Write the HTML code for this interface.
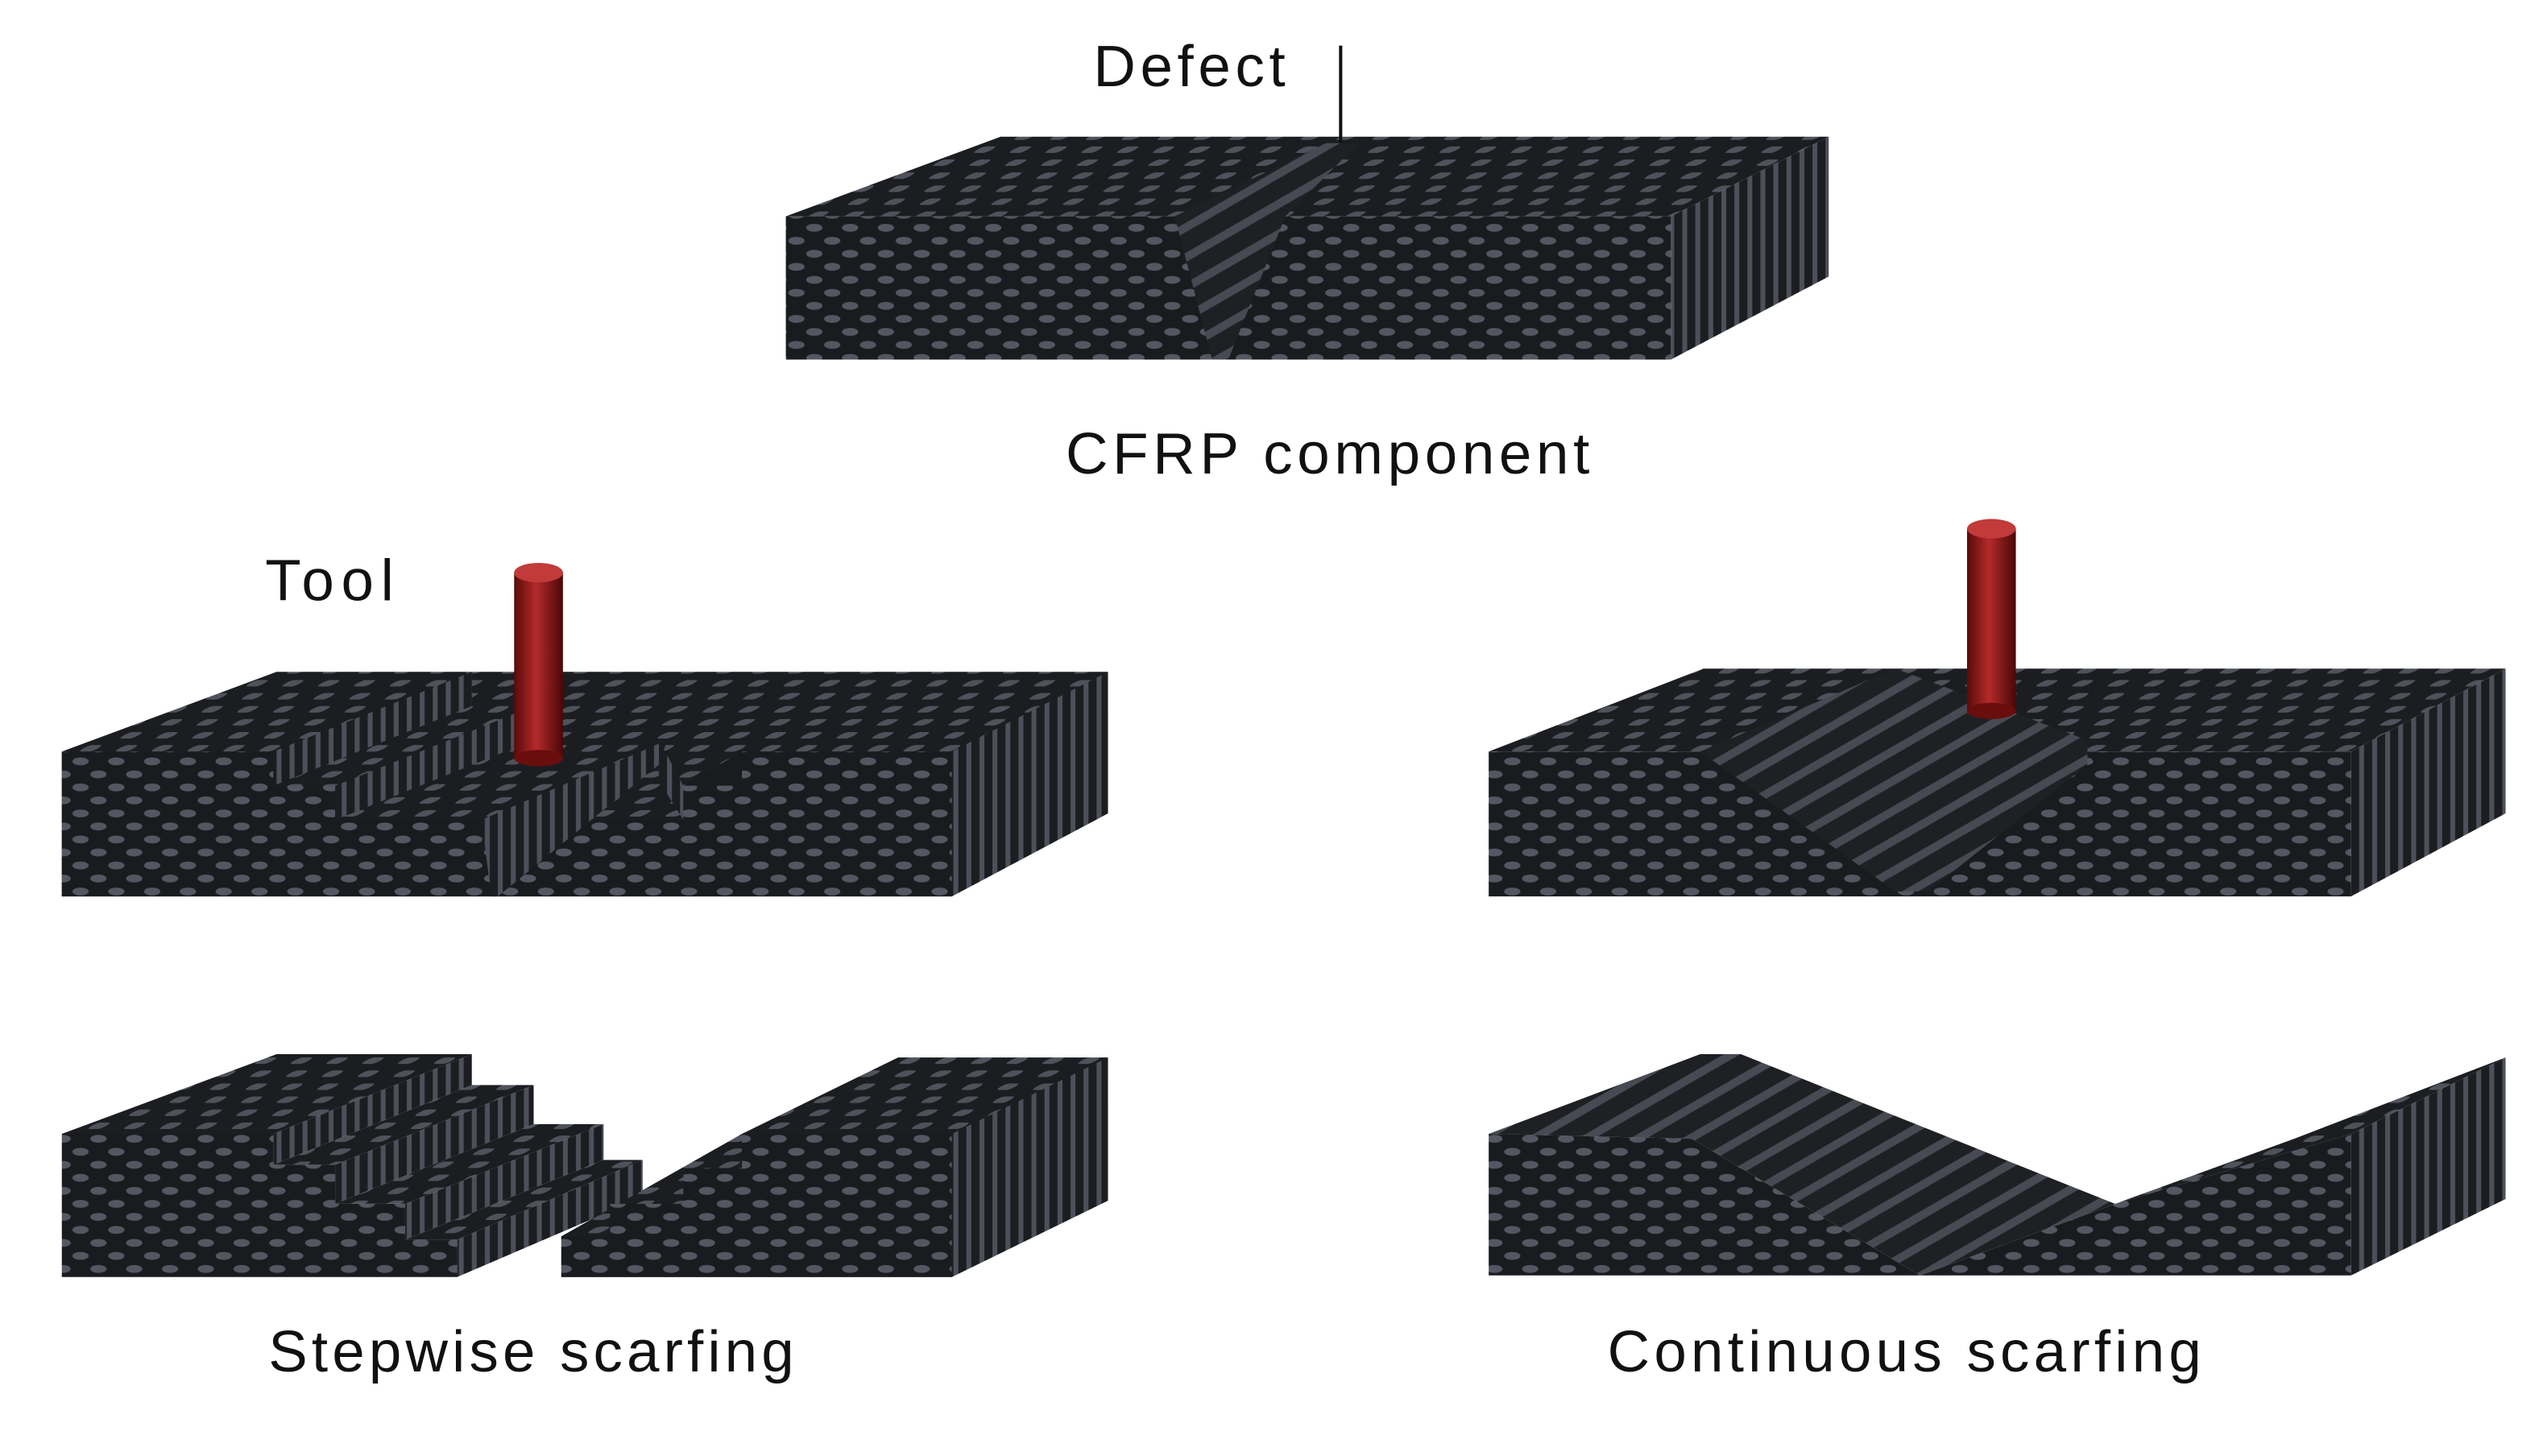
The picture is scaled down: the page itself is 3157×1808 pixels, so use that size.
<!DOCTYPE html>
<html><head><meta charset="utf-8"><style>
html,body{margin:0;padding:0;background:#fff;}
svg{display:block}
text{font-family:"Liberation Sans",sans-serif;fill:#111;}
</style></head><body>
<svg width="3157" height="1808" viewBox="0 0 1563 895" preserveAspectRatio="none" xmlns="http://www.w3.org/2000/svg">
<defs>
<pattern id="fr" patternUnits="userSpaceOnUse" width="22" height="16">
<rect width="22" height="16" fill="#1a1b1e"/>
<ellipse cx="5.5" cy="4" rx="5" ry="2.4" fill="#545761"/>
<ellipse cx="16.5" cy="12" rx="5" ry="2.4" fill="#545761"/>
</pattern>
<pattern id="tp" patternUnits="userSpaceOnUse" width="22" height="16" patternTransform="skewX(-60)">
<rect width="22" height="16" fill="#1c1d21"/>
<rect x="1" y="2" width="9" height="4" rx="2" fill="#4f525b"/>
<rect x="12" y="10" width="9" height="4" rx="2" fill="#4f525b"/>
</pattern>
<pattern id="sd" patternUnits="userSpaceOnUse" width="8" height="20" patternTransform="skewY(-27)">
<rect width="8" height="20" fill="#1c1d21"/>
<rect x="2" y="0" width="3" height="20" fill="#4d505a"/>
</pattern>
<pattern id="dg" patternUnits="userSpaceOnUse" width="16" height="16" patternTransform="rotate(-30)">
<rect width="16" height="16" fill="#1f2024"/>
<rect x="0" y="3" width="16" height="5" fill="#474a53"/>
</pattern>
<linearGradient id="cyl" x1="0" x2="1">
<stop offset="0" stop-color="#5a0a0a"/><stop offset="0.45" stop-color="#b42a2a"/><stop offset="1" stop-color="#4a0707"/>
</linearGradient>
</defs>

<!-- Top block -->
<polygon points="483,133 615,84 1124,84 1027,133" fill="url(#tp)"/>
<polygon points="1027,133 1124,84 1124,170 1027,221" fill="url(#sd)"/>
<polygon points="483,133 1027,133 1027,221 483,221" fill="url(#fr)"/>
<polygon points="722,133 815,88 835,88 790,133 755,221 745,221" fill="url(#dg)"/>
<line x1="824" y1="28" x2="824" y2="88" stroke="#111" stroke-width="2"/>
<text x="672" y="53" font-size="36" textLength="118" lengthAdjust="spacing">Defect</text>
<text x="655" y="291" font-size="36" textLength="322" lengthAdjust="spacing">CFRP component</text>

<!-- Middle left -->
<polygon points="38,462 170,413 681,413 681,500 585,551 38,551" fill="url(#tp)"/>
<polygon points="585,462 681,413 681,500 585,551" fill="url(#sd)"/>
<polygon points="168,462 290,413 290,434 168,483" fill="url(#sd)"/>
<polygon points="206,483 328,434 328,455 206,504" fill="url(#sd)"/>
<polygon points="405,455 420,483 420,504 405,480" fill="url(#sd)"/>
<polygon points="420,483 456,462 456,483" fill="#1a1b1e"/>
<polygon points="38,462 168,462 168,483 206,483 206,504 296,504 302,551 306,504 420,504 420,483 456,483 456,462 585,462 585,551 38,551" fill="url(#fr)"/>
<polygon points="296,504 410,455 405,470 306,551 302,551" fill="url(#sd)"/>
<rect x="316" y="352" width="30" height="114" fill="url(#cyl)"/>
<ellipse cx="331" cy="352" rx="15" ry="6" fill="#c23a3a"/>
<ellipse cx="331" cy="466" rx="15" ry="5" fill="#6a0d0d"/>
<text x="163" y="369" font-size="36" textLength="79" lengthAdjust="spacing">Tool</text>

<!-- Middle right -->
<polygon points="915,462 1047,411 1540,411 1445,462" fill="url(#tp)"/>
<polygon points="1445,462 1540,411 1540,500 1445,551" fill="url(#sd)"/>
<polygon points="915,462 1445,462 1445,551 915,551" fill="url(#fr)"/>
<polygon points="1045,462 1165,411 1283,455 1283,470 1185,548 1165,548" fill="url(#dg)"/>
<rect x="1209" y="325" width="30" height="112" fill="url(#cyl)"/>
<ellipse cx="1224" cy="325" rx="15" ry="6" fill="#c23a3a"/>
<ellipse cx="1224" cy="437" rx="15" ry="5" fill="#6a0d0d"/>

<!-- Bottom left stepped: left piece -->
<polygon points="38,697 170,648 290,648 168,697" fill="url(#tp)"/>
<polygon points="168,716 290,667 328,667 206,716" fill="url(#tp)"/>
<polygon points="206,740 328,691 371,691 249,740" fill="url(#tp)"/>
<polygon points="249,762 371,713 395,713 281,762" fill="url(#tp)"/>
<polygon points="168,697 290,648 290,667 168,716" fill="url(#sd)"/>
<polygon points="206,716 328,667 328,691 206,740" fill="url(#sd)"/>
<polygon points="249,740 371,691 371,713 249,762" fill="url(#sd)"/>
<polygon points="281,762 395,713 395,736 281,785" fill="url(#sd)"/>
<polygon points="38,697 168,697 168,716 206,716 206,740 249,740 249,762 281,762 281,785 38,785" fill="url(#fr)"/>
<!-- right piece -->
<polygon points="345,785 345,760 456,697 552,650 681,650 681,738 585,785" fill="url(#tp)"/>
<polygon points="345,760 375,760 375,740 420,740 420,718 456,718 456,697 585,697 585,785 345,785" fill="url(#fr)"/>
<polygon points="585,697 681,650 681,738 585,785" fill="url(#sd)"/>
<text x="165" y="843" font-size="36" textLength="323" lengthAdjust="spacing">Stepwise scarfing</text>

<!-- Bottom right continuous -->
<polygon points="915,697 1040,700 1180,784 915,784" fill="url(#fr)"/>
<polygon points="1180,784 1300,740 1445,697 1445,784" fill="url(#fr)"/>
<polygon points="915,697 1045,648 1070,648 1300,740 1180,784 1040,700" fill="url(#dg)"/>
<polygon points="1300,740 1410,700 1540,650 1445,697" fill="url(#tp)"/>
<polygon points="1445,697 1540,650 1540,737 1445,784" fill="url(#sd)"/>
<text x="988" y="843" font-size="36" textLength="365" lengthAdjust="spacing">Continuous scarfing</text>
</svg>
</body></html>
